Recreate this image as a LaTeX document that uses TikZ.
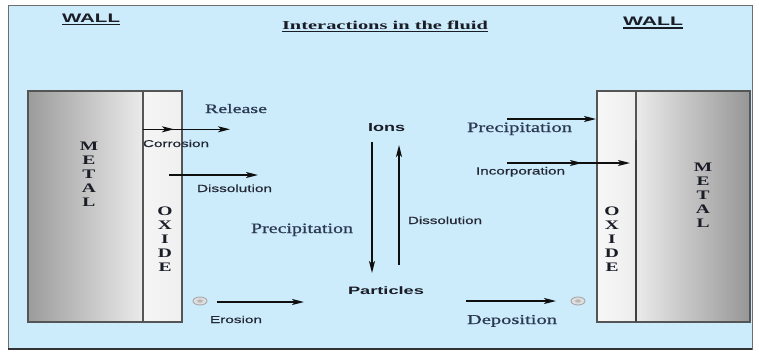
\documentclass[tikz,border=0pt]{standalone}
\usepackage{fontspec}
\setmainfont{Liberation Serif}
\setsansfont{Liberation Sans}
\newfontfamily\labserif[FakeBold=0.7]{Liberation Serif}
\newfontfamily\labsans[FakeBold=0.5]{Liberation Sans}
\usepackage{graphicx}
\usetikzlibrary{arrows.meta,shapes.geometric}
\definecolor{bgblue}{RGB}{204,236,252}
\definecolor{framec}{RGB}{110,110,110}
\definecolor{wallline}{RGB}{85,85,85}
\definecolor{serifc}{RGB}{44,58,80}
\definecolor{sansc}{RGB}{36,40,52}
\definecolor{headc}{RGB}{26,28,38}
\definecolor{arrc}{RGB}{15,15,15}
\newcommand{\fitt}[3]{\resizebox{#1pt}{#2pt}{#3}}
\tikzset{
  lbl/.style={inner sep=0pt, outer sep=0pt, anchor=base west},
  serifl/.style={lbl, text=serifc, font=\labserif},
  sansl/.style={lbl, text=sansc, font=\labsans},
  bsans/.style={lbl, text=headc, font=\sffamily\bfseries},
  bserif/.style={lbl, text=headc, font=\rmfamily\bfseries},
  ul/.style={line width=1.3pt, draw=headc},
  arr/.style={-{Stealth[length=12pt,width=6pt,inset=3pt]}, line width=1.5pt, draw=arrc},
  wallbox/.style={draw=wallline, line width=1.1pt, inner sep=0pt, outer sep=0pt, anchor=north west, minimum height=231pt},
  vletter/.style={inner sep=0pt, anchor=base, text=headc, font=\rmfamily\bfseries\fontsize{13}{13}\selectfont},
  grain/.style={draw=gray!70, fill=gray!25, line width=0.9pt, ellipse, minimum width=14pt, minimum height=8pt, inner sep=0pt}
}
\begin{document}
\begin{tikzpicture}[x=1pt,y=-1pt]
\useasboundingbox (0,0) rectangle (759,351);
\fill[white] (0,0) rectangle (759,351);
% frame
\node[draw=framec, fill=bgblue, line width=1pt, minimum width=744pt, minimum height=344pt, anchor=north west, inner sep=0pt, outer sep=0pt] (frame) at (8,5) {};
\draw[line width=2.5pt, draw=black!80] (frame.south west) -- (frame.south east);
% left wall
\node[wallbox, minimum width=115pt, left color=gray!78, right color=gray!16] (lmetal) at (28,91) {};
\node[wallbox, minimum width=39pt, left color=gray!8, right color=gray!12] (loxide) at (143,91) {};
% right wall
\node[wallbox, minimum width=39pt, left color=gray!6, right color=gray!14] (roxide) at (597,91) {};
\node[wallbox, minimum width=114pt, left color=gray!16, right color=gray!82] (rmetal) at (636,91) {};
\coordinate (rdivtop) at (636,140);
\draw[line width=1.2pt, draw=black!75] (rdivtop) -- (rmetal.south west);
% headings
\node[bsans] (wallL) at (62,22) {\fitt{58}{8.5}{WALL}};
\draw[ul] ([yshift=-2.6pt]wallL.base west) -- ([yshift=-2.6pt]wallL.base east);
\node[bsans] (wallR) at (623,25.5) {\fitt{60}{8.5}{WALL}};
\draw[ul] ([yshift=-2.6pt]wallR.base west) -- ([yshift=-2.6pt]wallR.base east);
\node[bserif] (title) at (282,29) {\fitt{206}{8.5}{Interactions in the fluid}};
\draw[ul] ([yshift=-2.8pt]title.base west) -- ([yshift=-2.8pt]title.base east);
% vertical letters
\foreach \l [count=\i] in {M,E,T,A,L} \node[vletter] (lml\i) at (89,{150+14.2*(\i-1)}) {\scalebox{1.5}[1]{\l}};
\foreach \l [count=\i] in {O,X,I,D,E} \node[vletter] (lox\i) at (165,{215+14.2*(\i-1)}) {\scalebox{1.5}[1]{\l}};
\foreach \l [count=\i] in {O,X,I,D,E} \node[vletter] (rox\i) at (612,{215+14.2*(\i-1)}) {\scalebox{1.5}[1]{\l}};
\foreach \l [count=\i] in {M,E,T,A,L} \node[vletter] (rml\i) at (703,{171+14.2*(\i-1)}) {\scalebox{1.5}[1]{\l}};
% labels
\node[serifl] (release) at (205,113) {\fitt{62}{9}{Release}};
\node[sansl] (corrosion) at (143,147) {\fitt{66}{7.2}{Corrosion}};
\node[sansl] (dissL) at (197,192) {\fitt{75}{7.5}{Dissolution}};
\node[serifl] (precL) at (251,233) {\fitt{102}{9.5}{Precipitation}};
\node[bsans] (ions) at (368,131) {\fitt{37}{8}{Ions}};
\node[bsans] (particles) at (348,294) {\fitt{76}{7.8}{Particles}};
\node[sansl] (dissR) at (408,224) {\fitt{74}{7.5}{Dissolution}};
\node[sansl] (erosion) at (210,323) {\fitt{52}{7.2}{Erosion}};
\node[serifl] (precR) at (467,132) {\fitt{105}{9.5}{Precipitation}};
\node[sansl] (incorp) at (476,174.5) {\fitt{89}{7.5}{Incorporation}};
\node[serifl] (depo) at (467,324) {\fitt{90}{9}{Deposition}};
% grains
\node[grain] (grainL) at (200,301) {};
\node[grain] (grainR) at (578,301) {};
\fill[gray!55] (grainL) ellipse (3pt and 1.7pt);
\fill[gray!55] (grainR) ellipse (3pt and 1.7pt);
% arrow coordinates
\coordinate (corrA) at (143,129.3);
\coordinate (corrM) at (174,129.3);
\coordinate (corrB) at (230,129.3);
\coordinate (dissA) at (169,175);
\coordinate (dissB) at (258,175);
\coordinate (downA) at (372,142);
\coordinate (downB) at (372,273);
\coordinate (upA) at (399,265);
\coordinate (upB) at (399,145);
\coordinate (eroA) at (217,302);
\coordinate (eroB) at (304,302);
\coordinate (depA) at (466,301);
\coordinate (depB) at (556,301);
\coordinate (precA) at (507,119);
\coordinate (precB) at (596,119);
\coordinate (incA) at (507,163);
\coordinate (incM) at (582,163);
\coordinate (incB) at (630,163);
% arrows
\draw[arr] (corrA) -- (corrM);
\draw[arr] (corrA) -- (corrB);
\draw[arr] (dissA) -- (dissB);
\draw[arr] (downA) -- (downB);
\draw[arr] (upA) -- (upB);
\draw[arr] (eroA) -- (eroB);
\draw[arr] (depA) -- (depB);
\draw[arr] (precA) -- (precB);
\draw[arr] (incA) -- (incM);
\draw[arr] (incA) -- (incB);
\end{tikzpicture}
\end{document}
